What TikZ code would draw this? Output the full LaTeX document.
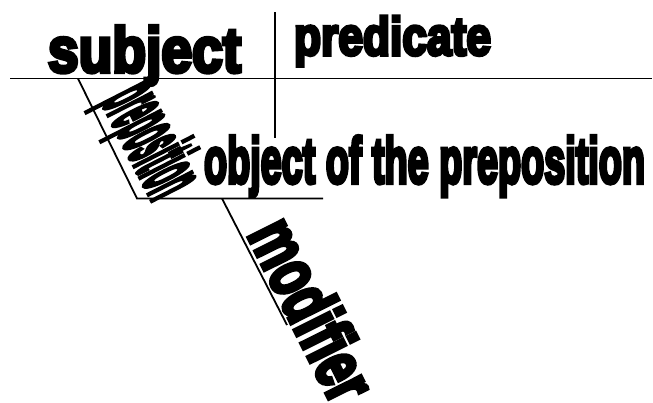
\documentclass[tikz,border=0pt]{standalone}
\usepackage{fontspec}
\newfontface\heavy{Liberation Sans Bold}[FakeBold=6.5]
\begin{document}
\begin{tikzpicture}[x=1pt,y=-1pt,
  rule/.style={line width=1.8pt, line cap=butt},
  word/.style={inner sep=0pt, outer sep=0pt}]
\useasboundingbox (0,0) rectangle (653,402);
% line end points
\coordinate (mainL) at (10,78.5);
\coordinate (mainR) at (652,78.5);
\coordinate (divT) at (275,12);
\coordinate (divB) at (275,138);
\coordinate (prepT) at (78,78.5);
\coordinate (prepB) at (137,198.5);
\coordinate (objR) at (323,198.5);
\coordinate (modT) at (222,198.5);
\coordinate (modB) at (287,325);
% lines
\draw[rule] (mainL) -- (mainR);
\draw[rule] (divT) -- (divB);
\draw[rule] (prepT) -- (prepB) -- (objR);
\draw[rule] (modT) -- (modB);
% words
\node[word, anchor=base west] (subj) at (48,72) {\resizebox{193pt}{46pt}{\heavy subject}};
\node[word, anchor=base west] (pred) at (294,55) {\resizebox{197pt}{39pt}{\heavy predicate}};
\node[word, anchor=base west] (obj) at (204,183) {\resizebox{441pt}{47pt}{\heavy object of the preposition}};
\node[word, anchor=base west, rotate=-63] (prep) at (102,101) {\scalebox{2.1}[8.8]{\heavy preposition}};
\node[word, anchor=base west, rotate=-63.5] (mod) at (247,234) {\scalebox{4.9}[7.2]{\heavy modifier}};
\end{tikzpicture}
\end{document}
